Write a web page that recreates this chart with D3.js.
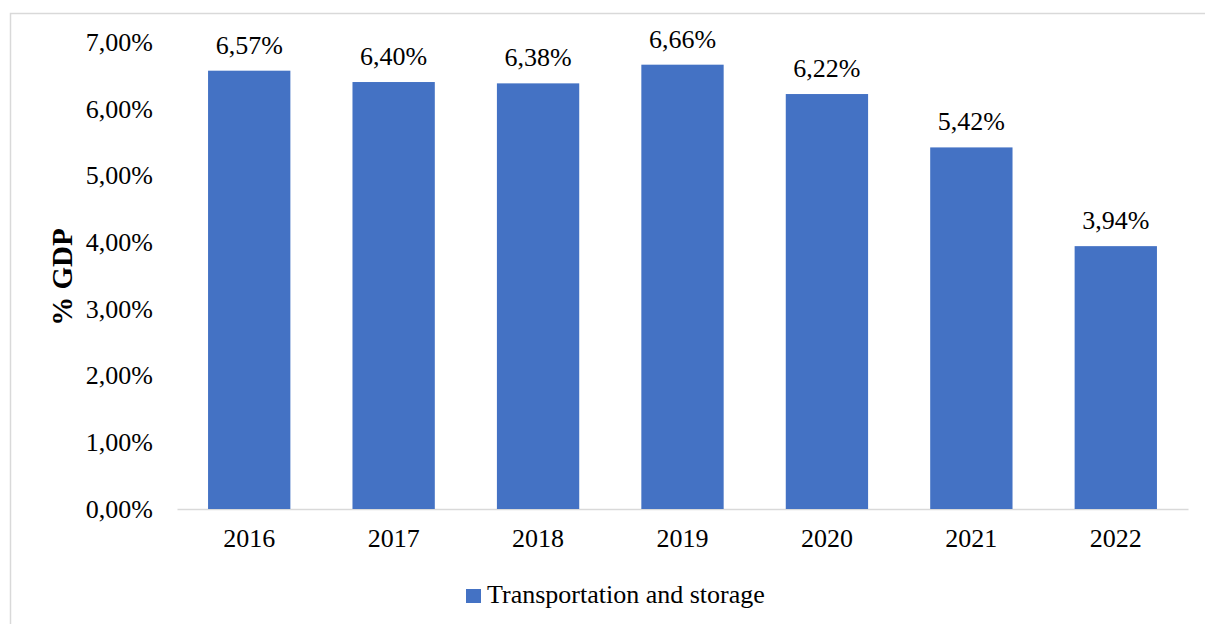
<!DOCTYPE html>
<html>
<head>
<meta charset="utf-8">
<script src="https://cdn.jsdelivr.net/npm/d3@7"></script>
<style>
  body { margin: 0; background: #fff; }
  text { font-family: "Liberation Serif", "Times New Roman", serif; fill: #000; }
</style>
</head>
<body>
<div id="chart"></div>
<script>
// 1: DATA
const years = ["2016", "2017", "2018", "2019", "2020", "2021", "2022"];
const shares = [6.57, 6.40, 6.38, 6.66, 6.22, 5.42, 3.94];
const yTicks = [0, 1, 2, 3, 4, 5, 6, 7];
const seriesName = "Transportation and storage";

// 2: SETUP
const W = 1205, H = 624;
const margin = { top: 42, right: 17, bottom: 115, left: 177 },
      width = W - margin.left - margin.right,
      height = 509 - margin.top;

const svg = d3.select("#chart")
    .append("svg")
    .attr("width", W)
    .attr("height", H);

// chart border
svg.append("rect")
    .attr("x", 10.5).attr("y", 13.5)
    .attr("width", 1210).attr("height", 640)
    .attr("fill", "none")
    .attr("stroke", "#d9d9d9")
    .attr("stroke-width", 1.5);

const g = svg.append("g")
    .attr("transform", `translate(${margin.left},${margin.top})`);

// 3: SCALES
const x = d3.scaleBand()
    .domain(years)
    .range([0, width])
    .paddingInner(0.43)
    .paddingOuter(0.215);

const y = d3.scaleLinear()
    .domain([0, 7])
    .range([height, 0]);

const fmt = v => d3.format(".2f")(v).replace(".", ",") + "%";

// 4: AXES
const yAxis = g.append("g")
    .call(d3.axisLeft(y).tickValues(yTicks).tickSize(0).tickPadding(24).tickFormat(fmt));
yAxis.select(".domain").remove();
yAxis.selectAll("text")
    .style("font-family", "'Liberation Serif', serif")
    .style("font-size", "26px");

const xAxis = g.append("g")
    .attr("transform", `translate(0,${height})`)
    .call(d3.axisBottom(x).tickSize(0).tickPadding(20));
xAxis.select(".domain")
    .attr("stroke", "#d9d9d9")
    .attr("stroke-width", 1.5);
xAxis.selectAll("text")
    .style("font-family", "'Liberation Serif', serif")
    .style("font-size", "26px");

// 5: BARS
g.selectAll("rect.bar")
    .data(years)
    .enter()
    .append("rect")
    .attr("class", "bar")
    .attr("x", d => x(d))
    .attr("y", (d, i) => y(shares[i]))
    .attr("width", x.bandwidth())
    .attr("height", (d, i) => height - y(shares[i]))
    .attr("fill", "#4472c4");

// data labels
g.selectAll("text.label")
    .data(years)
    .enter()
    .append("text")
    .attr("class", "label")
    .attr("x", d => x(d) + x.bandwidth() / 2)
    .attr("y", (d, i) => y(shares[i]) - 17)
    .attr("text-anchor", "middle")
    .style("font-size", "26px")
    .text((d, i) => fmt(shares[i]));

// 6: AXIS TITLE
svg.append("text")
    .attr("transform", "translate(72,277) rotate(-90)")
    .attr("text-anchor", "middle")
    .style("font-size", "29px")
    .style("font-weight", "bold")
    .text("% GDP");

// 7: LEGEND
const legend = svg.append("g").attr("transform", "translate(466,589)");
legend.append("rect")
    .attr("width", 15).attr("height", 14)
    .attr("fill", "#4472c4");
legend.append("text")
    .attr("x", 21).attr("y", 14)
    .style("font-size", "26px")
    .text(seriesName);
</script>
</body>
</html>
